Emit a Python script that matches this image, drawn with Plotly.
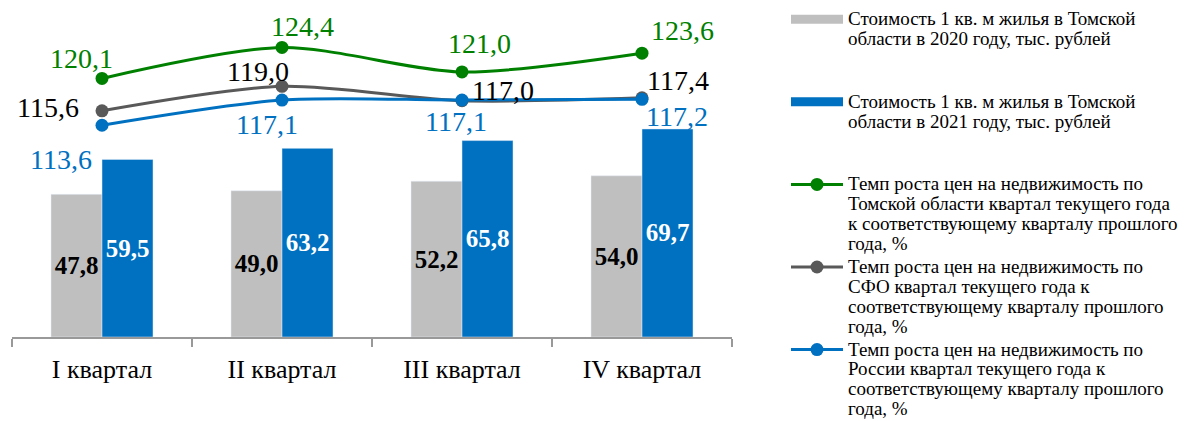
import plotly.graph_objects as go

categories = ["I квартал", "II квартал", "III квартал", "IV квартал"]
cost_2020 = [47.8, 49.0, 52.2, 54.0]
cost_2021 = [59.5, 63.2, 65.8, 69.7]
growth_tomsk = [120.1, 124.4, 121.0, 123.6]
growth_sfo = [115.6, 119.0, 117.0, 117.4]
growth_russia = [113.6, 117.1, 117.1, 117.2]

names = [
    ["Стоимость 1 кв. м жилья в Томской", "области в 2020 году, тыс. рублей", " ", " "],
    ["Стоимость 1 кв. м жилья в Томской", "области в 2021 году, тыс. рублей", " ", " "],
    ["Темп роста цен на недвижимость по", "Томской области квартал текущего года",
     "к соответствующему кварталу прошлого", "года, %"],
    ["Темп роста цен на недвижимость по", "СФО квартал текущего года к",
     "соответствующему кварталу прошлого", "года, %"],
    ["Темп роста цен на недвижимость по", "России квартал текущего года к",
     "соответствующему кварталу прошлого", "года, %"],
]

def legname(lines):
    return "<br>".join("<span style='font-size:19px'>%s</span>" % l for l in lines)

GRAY_BAR = "#BFBFBF"
BLUE = "#0070C0"
GREEN = "#008000"
DARK = "#595959"
FONT = "Liberation Serif"

fig = go.Figure()

# legend proxies for bars (wide swatch)
fig.add_trace(go.Scatter(x=[None], y=[None], mode="lines", line=dict(color=GRAY_BAR, width=9),
                         name=legname(names[0]), legendgroup="b20", showlegend=True,
                         legend="legend"))
fig.add_trace(go.Scatter(x=[None], y=[None], mode="lines", line=dict(color=BLUE, width=9),
                         name=legname(names[1]), legendgroup="b21", showlegend=True,
                         legend="legend"))

fig.add_trace(go.Bar(x=categories, y=cost_2020, marker_color=GRAY_BAR, showlegend=False,
                     legendgroup="b20", text=[f"{v:.1f}".replace(".", ",") for v in cost_2020],
                     textposition="inside", insidetextanchor="middle", textangle=0,
                     constraintext="none",
                     textfont=dict(family=FONT, size=25, color="black", weight="bold")))
fig.add_trace(go.Bar(x=categories, y=cost_2021, marker_color=BLUE, showlegend=False,
                     legendgroup="b21", text=[f"{v:.1f}".replace(".", ",") for v in cost_2021],
                     textposition="inside", insidetextanchor="middle", textangle=0,
                     constraintext="none",
                     textfont=dict(family=FONT, size=25, color="white", weight="bold")))

line_series = [
    (growth_tomsk, GREEN, GREEN, names[2], [(-21, -20), (20, -21), (17, -28), (40, -23)]),
    (growth_sfo, DARK, "black", names[3], [(-54, -3), (-24, -15), (41, -10), (36, -17)]),
    (growth_russia, BLUE, BLUE, names[4], [(-41, 34), (-15, 24), (-6, 21), (35, 17)]),
]

annotations = []
for vals, col, tcol, nm, offs in line_series:
    fig.add_trace(go.Scatter(x=categories, y=vals, yaxis="y2", mode="lines+markers",
                             line=dict(color=col, width=3, shape="spline", smoothing=0.8),
                             marker=dict(color=col, size=13), name=legname(nm),
                             legendgroup="lines", legend="legend2"))
    for c, v, (dx, dy) in zip(categories, vals, offs):
        annotations.append(dict(x=c, y=v, xref="x", yref="y2", text=f"{v:.1f}".replace(".", ","),
                                showarrow=False, xshift=dx, yshift=-dy,
                                font=dict(family=FONT, size=28, color=tcol)))

legend_common = dict(xanchor="left", yanchor="top", valign="top",
                     font=dict(family=FONT, size=15.3, color="black"), itemwidth=52,
                     tracegroupgap=0, bgcolor="rgba(0,0,0,0)", traceorder="normal")

fig.update_layout(
    width=1181, height=413,
    margin=dict(l=4, r=457, t=2, b=84, autoexpand=False),
    paper_bgcolor="white", plot_bgcolor="white",
    font=dict(family=FONT, color="black"),
    barmode="group", bargap=0.4333, bargroupgap=0,
    showlegend=True,
    legend=dict(x=1.075, y=1.022, yref="paper", **legend_common),
    legend2=dict(x=1.075, y=0.5168, yref="paper", **legend_common),
    xaxis=dict(type="category", range=[-0.5, 3.5], showline=True, linecolor="#999999",
               linewidth=1.5, ticks="outside", tickson="boundaries", ticklen=8,
               tickcolor="#999999", tickwidth=1.5, showgrid=False, zeroline=False,
               ticklabelstandoff=8,
               tickfont=dict(family=FONT, size=26, color="black")),
    yaxis=dict(range=[0, 109.55], visible=False, showgrid=False, zeroline=False),
    yaxis2=dict(range=[84.2, 129.6], overlaying="y", side="right", visible=False,
                showgrid=False, zeroline=False),
    annotations=annotations,
)

fig.write_html("out.html")
